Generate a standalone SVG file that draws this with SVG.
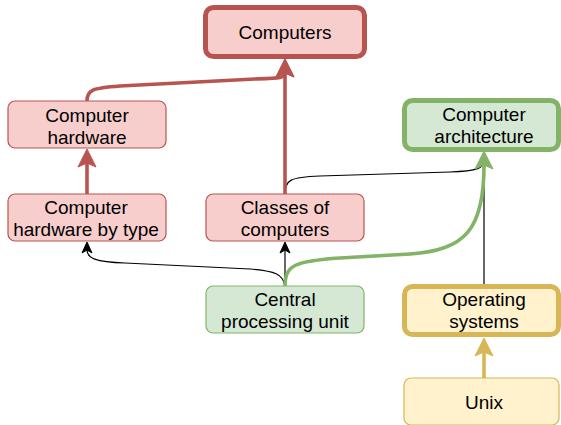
<svg xmlns="http://www.w3.org/2000/svg" width="561" height="425" viewBox="0 0 561 425">
<style>
  text { font-family: "Liberation Sans", Arial, Helvetica, sans-serif; font-size: 19px; fill: #000; text-anchor: middle; }
  .red { fill: #f8cecc; stroke: #b85450; }
  .green { fill: #d5e8d4; stroke: #82b366; }
  .yellow { fill: #fff2cc; stroke: #d6b656; }
  .thin { stroke-width: 1.2; }
  .thick { stroke-width: 5; }
  .e { fill: none; }
  .eb { stroke: #000; stroke-width: 1.2; }
  .er { stroke: #b85450; stroke-width: 3.6; }
  .eg { stroke: #82b366; stroke-width: 3.6; }
  .ey { stroke: #d6b656; stroke-width: 3.6; }
</style>
<defs>
  <marker id="aR" markerUnits="userSpaceOnUse" orient="auto" refX="0" refY="0" markerWidth="20" markerHeight="20" overflow="visible">
    <path d="M14,0 L-4,-9 L0,0 L-4,9 Z" fill="#b85450" stroke="#b85450" stroke-width="1"/>
  </marker>
  <marker id="aG" markerUnits="userSpaceOnUse" orient="auto" refX="0" refY="0" markerWidth="20" markerHeight="20" overflow="visible">
    <path d="M14,0 L-4,-9 L0,0 L-4,9 Z" fill="#82b366" stroke="#82b366" stroke-width="1"/>
  </marker>
  <marker id="aY" markerUnits="userSpaceOnUse" orient="auto" refX="0" refY="0" markerWidth="20" markerHeight="20" overflow="visible">
    <path d="M14,0 L-4,-9 L0,0 L-4,9 Z" fill="#d6b656" stroke="#d6b656" stroke-width="1"/>
  </marker>
  <marker id="aB" markerUnits="userSpaceOnUse" orient="auto" refX="0" refY="0" markerWidth="12" markerHeight="12" overflow="visible">
    <path d="M8,0 L-3,-5 L0,0 L-3,5 Z" fill="#000" stroke="#000" stroke-width="1"/>
  </marker>
</defs>
<g id="connectors">
  <path class="e eb" d="M285,194 C285,180 290,177 320,176 L450,172 C478,171 484,168 484,160"/>
  <path class="e eb" d="M484,286 L484,165"/>
  <path class="e eb" d="M285,286 L285,250" marker-end="url(#aB)"/>
  <path class="e eb" d="M285,286 C283,274 275,271 250,269 L125,263 C95,262 87,258 87,250" marker-end="url(#aB)"/>
  <path class="e er" d="M87,101 C87,90 92,88 120,86 L255,79 C280,78 285,78 285,73" marker-end="url(#aR)"/>
  <path class="e er" d="M285,194 L285,73" marker-end="url(#aR)"/>
  <path class="e er" d="M87,194 L87,163" marker-end="url(#aR)"/>
  <path class="e eg" d="M285,286 C285,265 295,261 340,258 L410,254 C465,250 484,230 484,165" marker-end="url(#aG)"/>
  <path class="e ey" d="M484,378 L484,352" marker-end="url(#aY)"/>
</g>
<g id="computers">
  <rect class="red thick" x="205.5" y="7.5" width="159" height="49" rx="8"/>
  <text x="285" y="39">Computers</text>
</g>
<g id="computer-hardware">
  <rect class="red thin" x="8" y="101" width="158" height="47" rx="7"/>
  <text x="87" y="121.5">Computer</text>
  <text x="87" y="143.5">hardware</text>
</g>
<g id="computer-hardware-by-type">
  <rect class="red thin" x="8" y="194" width="158" height="47" rx="7"/>
  <text x="86" y="213.5">Computer</text>
  <text x="86" y="235.5">hardware by type</text>
</g>
<g id="classes-of-computers">
  <rect class="red thin" x="206" y="194" width="158" height="47" rx="7"/>
  <text x="285" y="213.5">Classes of</text>
  <text x="285" y="235.5">computers</text>
</g>
<g id="computer-architecture">
  <rect class="green thick" x="404.5" y="100.5" width="154" height="49" rx="8"/>
  <text x="484" y="121">Computer</text>
  <text x="484" y="143">architecture</text>
</g>
<g id="central-processing-unit">
  <rect class="green thin" x="206" y="286" width="158" height="47" rx="7"/>
  <text x="285" y="305.5">Central</text>
  <text x="285" y="327.5">processing unit</text>
</g>
<g id="operating-systems">
  <rect class="yellow thick" x="404.5" y="286.5" width="154" height="48" rx="8"/>
  <text x="484" y="305.5">Operating</text>
  <text x="484" y="327.5">systems</text>
</g>
<g id="unix">
  <rect class="yellow thin" x="404" y="378" width="155" height="47" rx="7"/>
  <text x="484" y="409">Unix</text>
</g>
</svg>
